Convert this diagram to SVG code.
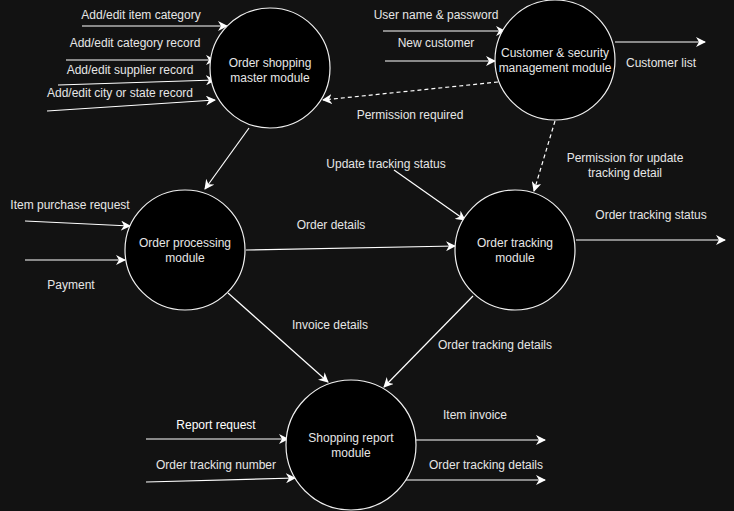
<svg xmlns="http://www.w3.org/2000/svg" width="734" height="511" viewBox="0 0 734 511">
<defs>
<marker id="arr" viewBox="0 0 10 10" refX="9" refY="5" markerWidth="10" markerHeight="10" markerUnits="userSpaceOnUse" orient="auto">
<path d="M0,0 L10,5 L0,10 L3,5 Z" fill="#ffffff"/>
</marker>
</defs>
<style>
text{font-family:"Liberation Sans",Arial,sans-serif;font-size:12px;fill:#e6e6e6;text-anchor:middle}
.node circle{fill:#000;stroke:#f0f0f0;stroke-width:1.2}
.e line{stroke:#ffffff;stroke-width:1.2;fill:none;marker-end:url(#arr)}
.e line.d{stroke-dasharray:4 3}
</style>
<rect width="734" height="511" fill="#121212"/>
<g id="connectors" class="e">
<line x1="82" y1="26" x2="227" y2="26"/>
<line x1="66" y1="60" x2="215" y2="60"/>
<line x1="58" y1="85" x2="215" y2="80"/>
<line x1="47" y1="111" x2="215" y2="100"/>
<line class="d" x1="498" y1="82" x2="323" y2="100"/>
<line x1="383" y1="31" x2="505" y2="31"/>
<line x1="385" y1="61" x2="495" y2="61"/>
<line x1="615" y1="42" x2="705" y2="42"/>
<line class="d" x1="555" y1="121" x2="534" y2="191"/>
<line x1="249" y1="128" x2="205" y2="189"/>
<line x1="25" y1="221" x2="130" y2="226"/>
<line x1="25" y1="260" x2="125" y2="260"/>
<line x1="246" y1="250" x2="455" y2="246"/>
<line x1="394" y1="170" x2="465" y2="220"/>
<line x1="576" y1="240" x2="725" y2="240"/>
<line x1="228" y1="293" x2="328" y2="382"/>
<line x1="473" y1="296" x2="384" y2="387"/>
<line x1="146" y1="439" x2="288" y2="439"/>
<line x1="146" y1="482" x2="295" y2="478"/>
<line x1="416" y1="440" x2="545" y2="440"/>
<line x1="406" y1="480" x2="545" y2="480"/>
</g>
<g id="labels">
<text x="141" y="19">Add/edit item category</text>
<text x="135" y="47">Add/edit category record</text>
<text x="130" y="74">Add/edit supplier record</text>
<text x="120" y="97">Add/edit city or state record</text>
<text x="410" y="119">Permission required</text>
<text x="436" y="19">User name &amp; password</text>
<text x="436" y="47">New customer</text>
<text x="661" y="67">Customer list</text>
<text x="625" y="162">Permission for update</text>
<text x="625" y="177">tracking detail</text>
<text x="70" y="209">Item purchase request</text>
<text x="71" y="289">Payment</text>
<text x="331" y="229">Order details</text>
<text x="386" y="168">Update tracking status</text>
<text x="651" y="219">Order tracking status</text>
<text x="330" y="329">Invoice details</text>
<text x="495" y="349">Order tracking details</text>
<text x="216" y="429" style="fill:#ffffff">Report request</text>
<text x="216" y="469">Order tracking number</text>
<text x="475" y="419">Item invoice</text>
<text x="486" y="469">Order tracking details</text>
</g>
<g id="n-master" class="node">
<circle cx="270" cy="68" r="60"/>
<text x="270" y="67">Order shopping</text>
<text x="270" y="82">master module</text>
</g>
<g id="n-customer" class="node">
<circle cx="555" cy="60" r="60"/>
<text x="555" y="57">Customer &amp; security</text>
<text x="555" y="72">management module</text>
</g>
<g id="n-processing" class="node">
<circle cx="185" cy="250" r="60"/>
<text x="185" y="247">Order processing</text>
<text x="185" y="262">module</text>
</g>
<g id="n-tracking" class="node">
<circle cx="515" cy="250" r="60"/>
<text x="515" y="247">Order tracking</text>
<text x="515" y="262">module</text>
</g>
<g id="n-report" class="node">
<circle cx="351" cy="445" r="65"/>
<text x="351" y="442">Shopping report</text>
<text x="351" y="457">module</text>
</g>
</svg>
